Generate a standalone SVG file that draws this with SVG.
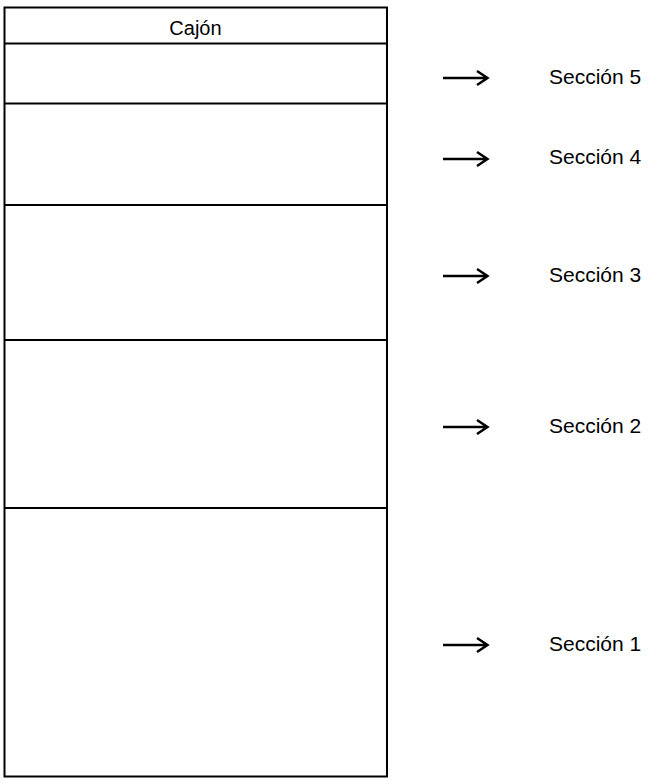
<svg xmlns="http://www.w3.org/2000/svg" width="671" height="784" viewBox="0 0 671 784">
<style>
.box{fill:#fff;stroke:#000;stroke-width:2}
.div{stroke:#000;stroke-width:2;fill:none}
.t{font-family:"Liberation Sans",Arial,sans-serif;fill:#000}
.lbl{font-size:21px}
.arr{stroke:#000;stroke-width:2.5;fill:none;stroke-linecap:butt}
</style>
<rect width="671" height="784" fill="#fff"/>
<g id="cajon">
<rect class="box" x="4.5" y="7.5" width="382.5" height="769"/>
<text class="t" x="195.5" y="35" font-size="20" text-anchor="middle">Cajón</text>
</g>
<g id="dividers">
<line class="div" x1="4.5" y1="43.5" x2="387" y2="43.5"/>
<line class="div" x1="4.5" y1="103.5" x2="387" y2="103.5"/>
<line class="div" x1="4.5" y1="205" x2="387" y2="205"/>
<line class="div" x1="4.5" y1="340" x2="387" y2="340"/>
<line class="div" x1="4.5" y1="508" x2="387" y2="508"/>
</g>
<g id="connectors">
<path class="arr" d="M443 78H487M477 71L487.5 78L477 85"/>
<path class="arr" d="M443 159H487M477 152L487.5 159L477 166"/>
<path class="arr" d="M443 276H487M477 269L487.5 276L477 283"/>
<path class="arr" d="M443 427H487M477 420L487.5 427L477 434"/>
<path class="arr" d="M443 645H487M477 638L487.5 645L477 652"/>
</g>
<g id="seccion5"><text class="t lbl" x="549" y="84">Sección 5</text></g>
<g id="seccion4"><text class="t lbl" x="549" y="164">Sección 4</text></g>
<g id="seccion3"><text class="t lbl" x="549" y="282">Sección 3</text></g>
<g id="seccion2"><text class="t lbl" x="549" y="433">Sección 2</text></g>
<g id="seccion1"><text class="t lbl" x="549" y="651">Sección 1</text></g>
</svg>
